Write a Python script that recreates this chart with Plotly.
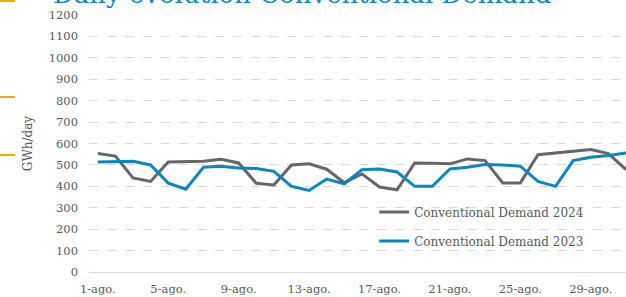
import plotly.graph_objects as go

days = list(range(1, 32))
demand_2024 = [553, 541, 439, 423, 514, 514, 517, 526, 509, 414, 406, 500, 505, 480, 417, 458,
               397, 384, 509, 508, 505, 528, 520, 416, 416, 548, 556, 564, 572, 553, 478]
demand_2023 = [514, 517, 517, 500, 415, 387, 489, 494, 486, 483, 470, 400, 381, 434, 412, 478,
               481, 467, 400, 400, 481, 489, 502, 500, 494, 423, 400, 520, 536, 544, 556]
tick_days = [1, 5, 9, 13, 17, 21, 25, 29]
tick_labels = ["1-ago.", "5-ago.", "9-ago.", "13-ago.", "17-ago.", "21-ago.", "25-ago.", "29-ago."]
y_ticks = list(range(0, 1201, 100))

GRAY = "#666666"
BLUE = "#0A86C3"
TXT = "#595959"
FONT = "DejaVu Serif"

fig = go.Figure()
fig.add_trace(go.Scatter(x=days, y=demand_2024, mode="lines", name="Conventional Demand 2024",
                         line=dict(color=GRAY, width=3), legendgroup="a"))
fig.add_trace(go.Scatter(x=days, y=demand_2023, mode="lines", name="Conventional Demand 2023",
                         line=dict(color=BLUE, width=3), legendgroup="b"))

fig.update_layout(
    width=626, height=297,
    margin=dict(l=89, r=0, t=15, b=25, autoexpand=False),
    plot_bgcolor="white", paper_bgcolor="white",
    font=dict(family=FONT, size=11.5, color=TXT),
    showlegend=True,
    legend=dict(x=0.531, xanchor="left", y=0.29, yanchor="top",
                bgcolor="rgba(0,0,0,0)", font=dict(family=FONT, size=12, color=TXT),
                tracegroupgap=10, itemwidth=30),
    xaxis=dict(range=[0.5, 31.0], tickvals=tick_days, ticktext=tick_labels, tickangle=0,
               showgrid=False, zeroline=False, showline=True, linecolor="#d9d9d9", linewidth=1,
               ticks="", ticklabelstandoff=6, tickfont=dict(family=FONT, size=11.5, color=TXT)),
    yaxis=dict(range=[0, 1200], tickvals=y_ticks, showgrid=True, gridcolor="#d9d9d9",
               griddash="dash", gridwidth=1, zeroline=False, showline=False, ticks="",
               ticklabelstandoff=10, tickfont=dict(family=FONT, size=11.5, color=TXT),
               title=dict(text="GWh/day", font=dict(family=FONT, size=12, color=TXT), standoff=13)),
)

fig.add_annotation(text="Daily evolution Conventional Demand", xref="paper", yref="paper",
                   x=-38/537, xanchor="left", y=1.017, yanchor="bottom", showarrow=False,
                   font=dict(family=FONT, size=26, color=BLUE))

for y0 in [1, 97, 155]:
    fig.add_shape(type="line", xref="paper", yref="paper", x0=-89/537, x1=-74/537,
                  y0=(272 - y0) / 257, y1=(272 - y0) / 257,
                  line=dict(color="#F5A800", width=2))

fig.write_html("out.html", config={"displayModeBar": False},
               post_script="document.body.style.margin='0';")
